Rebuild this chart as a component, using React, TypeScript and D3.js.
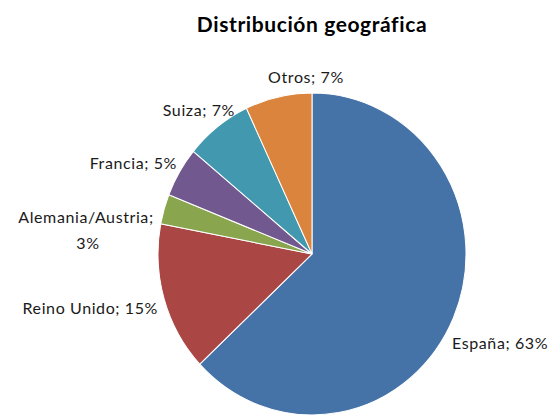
import React from "react";
import * as d3 from "d3";

const categories = ["España", "Reino Unido", "Alemania/Austria", "Francia", "Suiza", "Otros"];
const values = [63, 15, 3, 5, 7, 7];
const colors = ["#4572A7", "#AA4643", "#89A54E", "#71588F", "#4198AF", "#DB843D"];
const title = "Distribución geográfica";

// label layout: [x, y, anchor, lines]
const labelLayout: { x: number; y: number; anchor: string; lines?: number }[] = [
  { x: 452, y: 343, anchor: "start" },
  { x: 158, y: 308, anchor: "end" },
  { x: 86, y: 217, anchor: "middle", lines: 2 },
  { x: 177, y: 163, anchor: "end" },
  { x: 235, y: 110, anchor: "end" },
  { x: 306, y: 77, anchor: "middle" },
];

export default function App() {
  const W = 555, H = 417;
  const cx = 312, cy = 254, rx = 154, ry = 161;
  const pie = d3.pie<number>().sort(null).value((d) => d)(values);
  const arc = d3.arc<d3.PieArcDatum<number>>().innerRadius(0).outerRadius(rx);
  const font = "Lato, 'Open Sans', sans-serif";
  const fs = 16;
  const ls = 0.6;
  return (
    <svg width={W} height={H} style={{ position: "absolute", left: 0, top: 0, background: "#fff" }}>
      <text x={312} y={32} textAnchor="middle" fontFamily={font} fontWeight="bold" fontSize={21} letterSpacing={0.6} fill="#000">
        {title}
      </text>
      <g transform={`translate(${cx},${cy}) scale(1,${ry / rx})`}>
        {pie.map((p, i) => (
          <path key={i} d={arc(p) || ""} fill={colors[i]} stroke="#fff" strokeWidth={1} />
        ))}
      </g>
      {labelLayout.map((l, i) => {
        const txt = `${categories[i]}; ${values[i]}%`;
        if (l.lines === 2) {
          return (
            <text key={i} textAnchor="middle" fontFamily={font} fontSize={fs} letterSpacing={ls} fill="#1a1a1a">
              <tspan x={l.x} y={l.y} dy="0.35em">{categories[i] + ";"}</tspan>
              <tspan x={l.x + 2} y={l.y + 26} dy="0.35em">{values[i] + "%"}</tspan>
            </text>
          );
        }
        return (
          <text key={i} x={l.x} y={l.y} dy="0.35em" textAnchor={l.anchor as any} fontFamily={font} fontSize={fs} letterSpacing={ls} fill="#1a1a1a">
            {txt}
          </text>
        );
      })}
    </svg>
  );
}
